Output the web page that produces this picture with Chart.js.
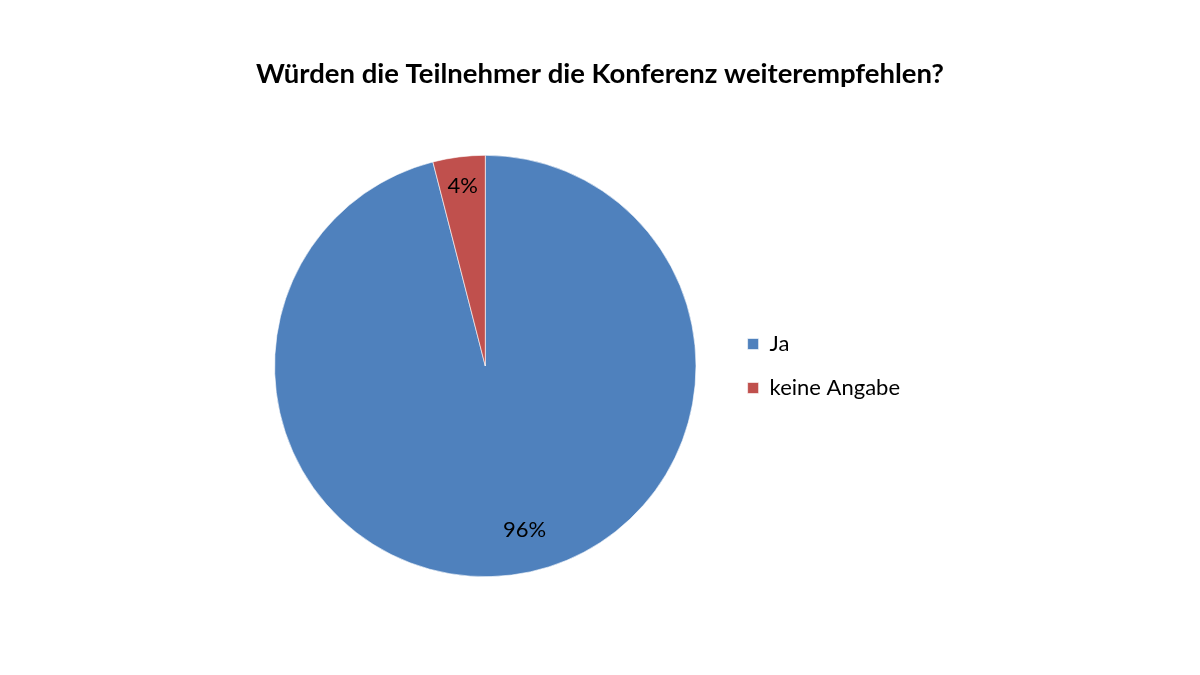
<!DOCTYPE html>
<html>
<head>
<meta charset="utf-8">
<script src="https://cdn.jsdelivr.net/npm/chart.js@4"></script>
<style>
  html, body { margin: 0; padding: 0; background: #fff; }
  #wrap { width: 1200px; height: 675px; }
</style>
</head>
<body>
<div id="wrap"><canvas id="piecanvas" width="1200" height="675"></canvas></div>
<script>
// data
const categories = ["Ja", "keine Angabe"];
const values = [96, 4];
const sliceColors = ["#4F81BD", "#C0504D"];
const titleText = "Würden die Teilnehmer die Konferenz weiterempfehlen?";

// keep the title centred on the whole canvas, not on the padded area
const centerTitle = {
    id: 'centerTitle',
    afterLayout(chart) {
        const t = chart.titleBlock;
        if (t) {
            t.left = 0;
            t.right = chart.width;
            t.width = chart.width;
        }
    }
};

// percentage labels inside the slices
const pctLabels = {
    id: 'pctLabels',
    afterDatasetsDraw(chart) {
        const ctx = chart.ctx;
        const meta = chart.getDatasetMeta(0);
        const total = values.reduce((a, b) => a + b, 0);
        ctx.save();
        ctx.font = '22px Lato';
        ctx.fillStyle = '#000';
        ctx.textAlign = 'center';
        ctx.textBaseline = 'middle';
        meta.data.forEach(function (arc, i) {
            const p = arc.getProps(['startAngle', 'endAngle', 'outerRadius', 'x', 'y'], true);
            const mid = (p.startAngle + p.endAngle) / 2 + (i === 0 ? -0.11 : 0);
            const r = p.outerRadius * (i === 0 ? 0.8 : 0.86);
            const pct = Math.round(values[i] / total * 100) + '%';
            ctx.fillText(pct, p.x + Math.cos(mid) * r, p.y + Math.sin(mid) * r);
        });
        ctx.restore();
    }
};

window.onload = function () {
    const ctx1 = document.getElementById("piecanvas").getContext("2d");
    window.myPie = new Chart(ctx1, {
        type: 'pie',
        data: {
            labels: categories,
            datasets: [{
                data: values,
                backgroundColor: sliceColors,
                borderColor: '#ffffff',
                borderWidth: 0.6
            }]
        },
        options: {
            responsive: false,
            animation: false,
            layout: { padding: { left: 245, right: 290, top: 0, bottom: 98 } },
            plugins: {
                title: {
                    display: true,
                    text: titleText,
                    color: '#000',
                    font: { family: 'Lato', size: 27.5, weight: 'bold' },
                    padding: { top: 57.5, bottom: 64.5 }
                },
                legend: {
                    position: 'right',
                    fullSize: false,
                    labels: {
                        color: '#000',
                        font: { family: 'Lato', size: 22 },
                        boxWidth: 11,
                        boxHeight: 11,
                        padding: 22
                    }
                },
                tooltip: { enabled: false }
            }
        },
        plugins: [centerTitle, pctLabels]
    });
};
</script>
</body>
</html>
